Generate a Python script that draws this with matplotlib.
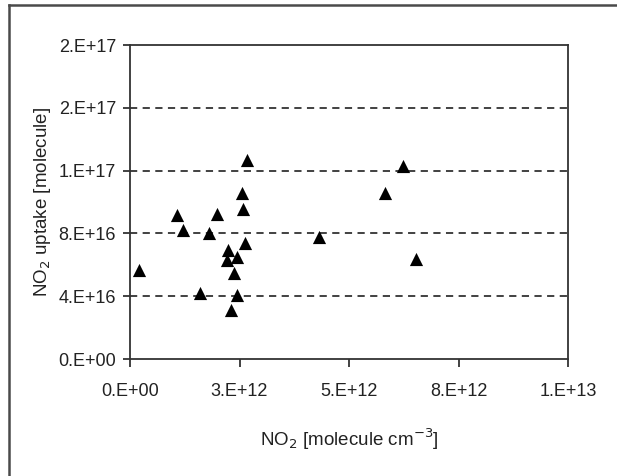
import matplotlib
matplotlib.use("Agg")
import matplotlib.pyplot as plt
from matplotlib.lines import Line2D

# Data (NO2 concentration in molecule cm^-3, uptake in molecule)
no2_conc = [0.20e12, 1.07e12, 1.20e12, 1.99e12, 1.80e12, 1.60e12, 2.68e12, 2.55e12,
            2.57e12, 2.63e12, 2.24e12, 2.21e12, 2.44e12, 2.37e12, 2.44e12, 2.30e12,
            4.32e12, 5.82e12, 6.23e12, 6.52e12]
no2_uptake = [5.70e16, 9.17e16, 8.22e16, 9.22e16, 8.01e16, 4.18e16, 1.268e17, 1.059e17,
              9.53e16, 7.41e16, 6.94e16, 6.31e16, 6.52e16, 5.50e16, 4.08e16, 3.12e16,
              7.75e16, 1.055e17, 1.229e17, 6.35e16]

x_ticks = [0, 2.5e12, 5e12, 7.5e12, 1e13]
x_ticklabels = ["0.E+00", "3.E+12", "5.E+12", "8.E+12", "1.E+13"]
y_ticks = [0, 4e16, 8e16, 1.2e17, 1.6e17, 2e17]
y_ticklabels = ["0.E+00", "4.E+16", "8.E+16", "1.E+17", "2.E+17", "2.E+17"]

plt.rcParams['font.family'] = ['Liberation Sans', 'DejaVu Sans']

fig = plt.figure(figsize=(6.17, 4.76), dpi=100)
W, H = 617, 476

# outer frame (top and left visible)
fig.add_artist(Line2D([8.5 / W, 8.5 / W], [0, 1 - 5 / H], transform=fig.transFigure,
                      color='#4a4a4a', lw=1.8))
fig.add_artist(Line2D([8.5 / W, 1], [1 - 5 / H, 1 - 5 / H], transform=fig.transFigure,
                      color='#4a4a4a', lw=1.8))

ax = fig.add_axes([130 / W, 1 - 359 / H, (568 - 130) / W, (359 - 45) / H])
ax.scatter(no2_conc, no2_uptake, marker='^', s=90, color='black', zorder=3, linewidths=0)

ax.set_xlim(0, 1e13)
ax.set_ylim(0, 2e17)
ax.set_xticks(x_ticks)
ax.set_xticklabels(x_ticklabels)
ax.set_yticks(y_ticks)
ax.set_yticklabels(y_ticklabels)

for yv in y_ticks[1:-1]:
    ax.axhline(yv, color='#333333', lw=1.3, ls=(0, (4, 3)), zorder=1)

for s in ax.spines.values():
    s.set_color('#333333')
    s.set_linewidth(1.3)

ax.tick_params(axis='x', direction='out', length=6, width=1.3, color='#333333',
               labelsize=13, pad=11, labelcolor='#222222')
ax.tick_params(axis='y', direction='out', length=5, width=1.3, color='#333333',
               labelsize=13, pad=5, labelcolor='#222222')

ax.set_xlabel("NO$_2$ [molecule cm$^{-3}$]", fontsize=13.5, color='#222222', labelpad=19)
ax.set_ylabel("NO$_2$ uptake [molecule]", fontsize=13.5, color='#222222', labelpad=4)

fig.savefig("out.png", dpi=100)
